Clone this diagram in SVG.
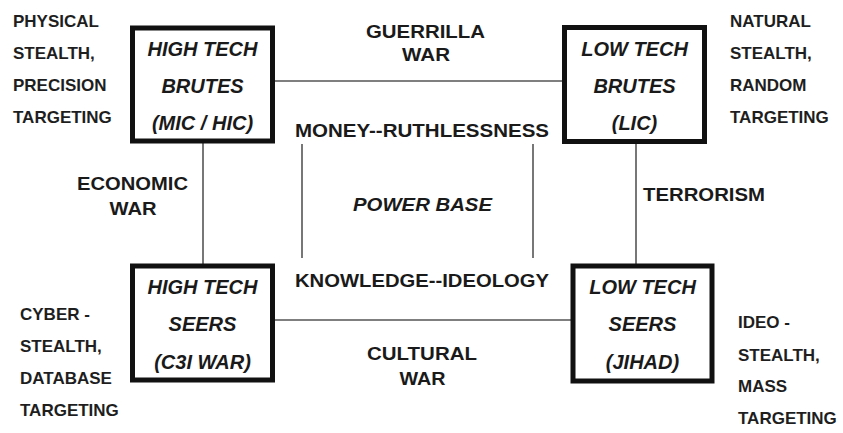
<svg xmlns="http://www.w3.org/2000/svg" width="843" height="433" viewBox="0 0 843 433">
<style>
.box{fill:#fff;stroke:#111;stroke-width:5}
.ln{stroke:#555;stroke-width:1.6;fill:none}
.nt{font-family:"Liberation Sans",Arial,sans-serif;font-weight:bold;font-style:italic;font-size:20px;fill:#1a1a1a;text-anchor:middle}
.lb{font-family:"Liberation Sans",Arial,sans-serif;font-weight:bold;font-size:17px;fill:#1e1e1e}
.md{font-family:"Liberation Sans",Arial,sans-serif;font-weight:bold;font-size:18px;fill:#1a1a1a;text-anchor:middle}
</style>
<rect width="843" height="433" fill="#fff"/>
<g id="connectors">
<line class="ln" x1="275" y1="81" x2="562" y2="81"/>
<line class="ln" x1="203" y1="143" x2="203" y2="264"/>
<line class="ln" x1="636" y1="143" x2="636" y2="264"/>
<line class="ln" x1="275" y1="320" x2="571" y2="320"/>
<line class="ln" x1="302" y1="144" x2="302" y2="258"/>
<line class="ln" x1="533" y1="144" x2="533" y2="258"/>
</g>
<g id="high-tech-brutes">
<rect class="box" x="132.5" y="28" width="140" height="113"/>
<text class="nt" x="202.5" y="56">HIGH TECH</text>
<text class="nt" x="202.5" y="93">BRUTES</text>
<text class="nt" x="202.5" y="130">(MIC / HIC)</text>
</g>
<g id="low-tech-brutes">
<rect class="box" x="564.5" y="27.5" width="140" height="114"/>
<text class="nt" x="634.5" y="56">LOW TECH</text>
<text class="nt" x="634.5" y="93">BRUTES</text>
<text class="nt" x="634.5" y="130">(LIC)</text>
</g>
<g id="high-tech-seers">
<rect class="box" x="132.5" y="266" width="140" height="114"/>
<text class="nt" x="202.5" y="294">HIGH TECH</text>
<text class="nt" x="202.5" y="331">SEERS</text>
<text class="nt" x="202.5" y="369">(C3I WAR)</text>
</g>
<g id="low-tech-seers">
<rect class="box" x="573" y="266" width="139" height="115"/>
<text class="nt" x="642.5" y="294">LOW TECH</text>
<text class="nt" x="642.5" y="331">SEERS</text>
<text class="nt" x="642.5" y="369">(JIHAD)</text>
</g>
<g id="labels">
<text class="lb" x="13" y="27">PHYSICAL</text>
<text class="lb" x="13" y="59">STEALTH,</text>
<text class="lb" x="13" y="91">PRECISION</text>
<text class="lb" x="13" y="123">TARGETING</text>
<text class="lb" x="730" y="27">NATURAL</text>
<text class="lb" x="730" y="59">STEALTH,</text>
<text class="lb" x="730" y="91">RANDOM</text>
<text class="lb" x="730" y="123">TARGETING</text>
<text class="lb" x="20" y="320">CYBER -</text>
<text class="lb" x="20" y="352">STEALTH,</text>
<text class="lb" x="20" y="384">DATABASE</text>
<text class="lb" x="20" y="416">TARGETING</text>
<text class="lb" x="738" y="328">IDEO -</text>
<text class="lb" x="738" y="361">STEALTH,</text>
<text class="lb" x="738" y="392">MASS</text>
<text class="lb" x="738" y="424">TARGETING</text>
<text class="md" x="425.5" y="38" textLength="119" lengthAdjust="spacingAndGlyphs">GUERRILLA</text>
<text class="md" x="426" y="61" textLength="48" lengthAdjust="spacingAndGlyphs">WAR</text>
<text class="md" x="132.5" y="190" textLength="111" lengthAdjust="spacingAndGlyphs">ECONOMIC</text>
<text class="md" x="133" y="215" textLength="47" lengthAdjust="spacingAndGlyphs">WAR</text>
<text class="md" x="704" y="201" textLength="122" lengthAdjust="spacingAndGlyphs">TERRORISM</text>
<text class="md" x="422" y="360" textLength="110" lengthAdjust="spacingAndGlyphs">CULTURAL</text>
<text class="md" x="422.5" y="385" textLength="46" lengthAdjust="spacingAndGlyphs">WAR</text>
<text class="md" x="422" y="137" textLength="254" lengthAdjust="spacingAndGlyphs">MONEY--RUTHLESSNESS</text>
<text class="md" x="422" y="287" textLength="254" lengthAdjust="spacingAndGlyphs">KNOWLEDGE--IDEOLOGY</text>
<text class="md" x="422.5" y="211" font-style="italic" textLength="139" lengthAdjust="spacingAndGlyphs">POWER BASE</text>
</g>
</svg>
